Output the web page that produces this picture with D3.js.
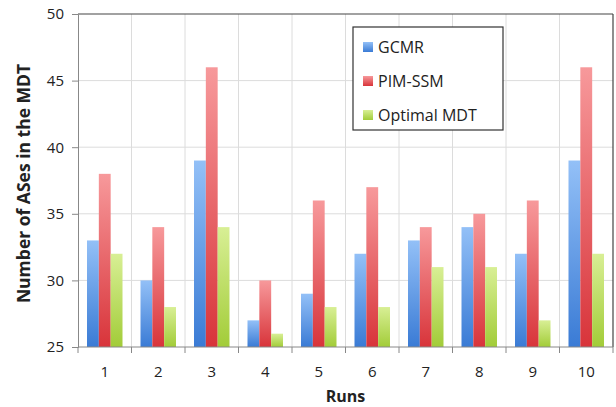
<!DOCTYPE html>
<html>
<head>
<meta charset="utf-8">
<script src="https://cdn.jsdelivr.net/npm/d3@7"></script>
<style>
  body { margin: 0; background: #fff; }
  text { font-family: "Open Sans", sans-serif; }
</style>
</head>
<body>
<div id="chart"></div>
<script>
const runs = ["1", "2", "3", "4", "5", "6", "7", "8", "9", "10"];
const seriesNames = ["GCMR", "PIM-SSM", "Optimal MDT"];
const gcmr = [33, 30, 39, 27, 29, 32, 33, 34, 32, 39];
const pimssm = [38, 34, 46, 30, 36, 37, 34, 35, 36, 46];
const optimal = [32, 28, 34, 26, 28, 28, 31, 31, 27, 32];
const yTicks = [25, 30, 35, 40, 45, 50];

const colors = [
  { top: "#93c0f7", bottom: "#3a7bd5" },
  { top: "#f7999b", bottom: "#d8343a" },
  { top: "#d8ef95", bottom: "#a2cc38" }
];

const margin = { top: 14, right: 3, bottom: 60, left: 78 };
const width = 616 - margin.left - margin.right;
const height = 407 - margin.top - margin.bottom;

const svg = d3.select("#chart")
  .append("svg")
  .attr("width", 616)
  .attr("height", 407);

// gradients for the bars
const defs = svg.append("defs");
colors.forEach((c, i) => {
  const g = defs.append("linearGradient")
    .attr("id", "grad" + i)
    .attr("x1", 0).attr("y1", 0).attr("x2", 0).attr("y2", 1);
  g.append("stop").attr("offset", "0%").attr("stop-color", c.top);
  g.append("stop").attr("offset", "100%").attr("stop-color", c.bottom);
});

const g = svg.append("g")
  .attr("transform", `translate(${margin.left},${margin.top})`);

const x = d3.scaleBand().domain(runs).range([0, width]).paddingInner(0).paddingOuter(0);
const xInner = d3.scaleBand().domain(seriesNames).range([9, x.bandwidth() - 9]);
const y = d3.scaleLinear().domain([25, 50]).range([height, 0]);

// horizontal grid
g.append("g")
  .selectAll("line")
  .data(yTicks.slice(1, -1))
  .join("line")
  .attr("x1", 0).attr("x2", width)
  .attr("y1", d => y(d)).attr("y2", d => y(d))
  .attr("stroke", "#dcdcdc");

// vertical grid at category boundaries
g.append("g")
  .selectAll("line")
  .data(runs.slice(1))
  .join("line")
  .attr("x1", d => x(d)).attr("x2", d => x(d))
  .attr("y1", 0).attr("y2", height)
  .attr("stroke", "#dcdcdc");

// bars
const allSeries = [gcmr, pimssm, optimal];
const groups = g.append("g")
  .selectAll("g")
  .data(runs)
  .join("g")
  .attr("transform", d => `translate(${x(d)},0)`);

groups.selectAll("rect")
  .data((d, i) => seriesNames.map((s, j) => ({ s, j, v: allSeries[j][i] })))
  .join("rect")
  .attr("x", d => xInner(d.s))
  .attr("width", xInner.bandwidth())
  .attr("y", d => y(d.v))
  .attr("height", d => height - y(d.v))
  .attr("fill", d => `url(#grad${d.j})`);

// top and right border
g.append("line").attr("x1", 0).attr("x2", width).attr("y1", 0).attr("y2", 0)
  .attr("stroke", "#444").attr("stroke-width", 1.2);
g.append("line").attr("x1", width).attr("x2", width).attr("y1", 0).attr("y2", height)
  .attr("stroke", "#444").attr("stroke-width", 1.2);

// y axis
const yAxis = g.append("g")
  .call(d3.axisLeft(y).tickValues(yTicks).tickSize(6).tickPadding(8));
yAxis.select(".domain").attr("stroke", "#888");
yAxis.selectAll(".tick line").attr("stroke", "#888");
yAxis.selectAll("text")
  .attr("font-size", 15)
  .attr("fill", "#222")
  .style("font-family", "Open Sans, sans-serif");

// x axis: ticks at the category boundaries
const xAxisG = g.append("g").attr("transform", `translate(0,${height})`);
xAxisG.append("line").attr("x1", 0).attr("x2", width).attr("stroke", "#888");
xAxisG.selectAll(".bt")
  .data(runs.concat(["end"]))
  .join("line")
  .attr("class", "bt")
  .attr("x1", d => d === "end" ? width : x(d))
  .attr("x2", d => d === "end" ? width : x(d))
  .attr("y1", 0).attr("y2", 6)
  .attr("stroke", "#888");
xAxisG.selectAll(".lbl")
  .data(runs)
  .join("text")
  .attr("class", "lbl")
  .attr("x", d => x(d) + x.bandwidth() / 2)
  .attr("y", 30)
  .attr("text-anchor", "middle")
  .attr("font-size", 15)
  .attr("fill", "#222")
  .text(d => d);

// axis titles
svg.append("text")
  .attr("x", margin.left + width / 2)
  .attr("y", 402)
  .attr("text-anchor", "middle")
  .attr("font-size", 16)
  .attr("font-weight", "bold")
  .attr("fill", "#222")
  .text("Runs");

svg.append("text")
  .attr("transform", `translate(30,${margin.top + height / 2 + 3}) rotate(-90)`)
  .attr("text-anchor", "middle")
  .attr("font-size", 17.5)
  .attr("font-weight", "bold")
  .attr("fill", "#222")
  .text("Number of ASes in the MDT");

// legend
const legend = svg.append("g").attr("transform", "translate(353,27)");
legend.append("rect")
  .attr("width", 150).attr("height", 103)
  .attr("fill", "#fff").attr("stroke", "#333").attr("stroke-width", 1.2);
seriesNames.forEach((s, i) => {
  const cy = 20 + i * 34;
  legend.append("rect")
    .attr("x", 10).attr("y", cy - 5)
    .attr("width", 10).attr("height", 10)
    .attr("fill", `url(#grad${i})`);
  legend.append("text")
    .attr("x", 25).attr("y", cy)
    .attr("dy", "0.35em")
    .attr("font-size", 16)
    .attr("fill", "#222")
    .text(s);
});
</script>
</body>
</html>
